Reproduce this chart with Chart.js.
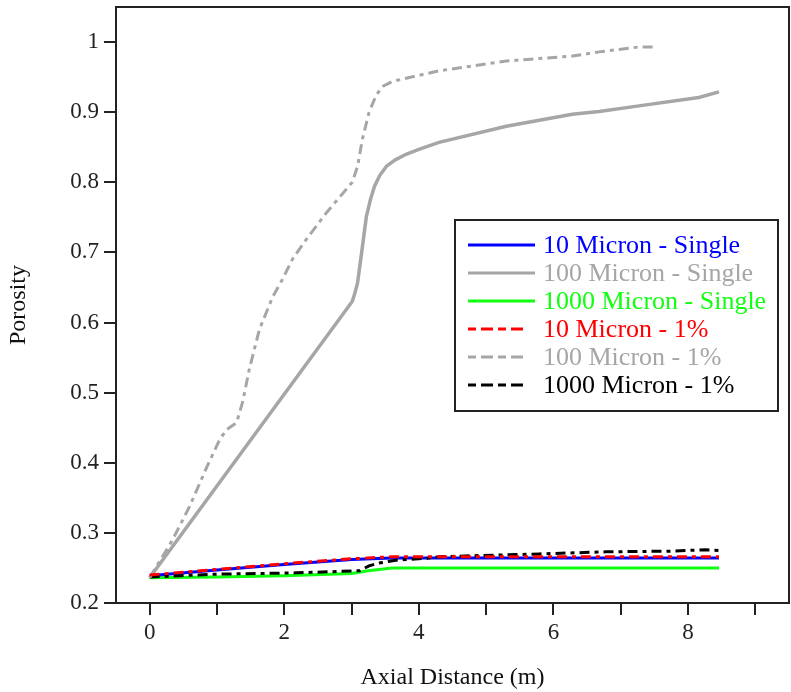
<!DOCTYPE html>
<html>
<head>
<meta charset="utf-8">
<title>Porosity vs Axial Distance</title>
<script src="https://cdn.jsdelivr.net/npm/chart.js@4/dist/chart.umd.min.js"></script>
<style>
	html, body { margin: 0; padding: 0; background: #fff; }
	canvas { display: block; }
</style>
</head>
<body>
<canvas id="porosity-chart" width="791" height="692"></canvas>
<script>
(function () {
	'use strict';

	// Axial distance (m) / porosity samples per run
	var m10SingleX = [0, 1, 2, 3, 3.6, 8.46];
	var m10SingleY = [0.239, 0.247, 0.255, 0.262, 0.264, 0.264];

	var m100SingleX = [0, 3.01, 3.05, 3.09, 3.15, 3.22, 3.28, 3.34, 3.42, 3.52, 3.65, 3.81, 4.0, 4.30, 5.30, 6.28, 6.68, 7.27, 8.16, 8.46];
	var m100SingleY = [0.236, 0.630, 0.642, 0.657, 0.700, 0.751, 0.775, 0.794, 0.810, 0.823, 0.832, 0.840, 0.847, 0.857, 0.880, 0.897, 0.901, 0.909, 0.921, 0.929];

	var m1000SingleX = [0, 1, 2, 3, 3.25, 3.6, 8.46];
	var m1000SingleY = [0.236, 0.237, 0.239, 0.242, 0.246, 0.250, 0.250];

	var m10PctX = [0, 1, 2, 3, 3.6, 8.46];
	var m10PctY = [0.240, 0.248, 0.256, 0.263, 0.266, 0.266];

	var m100PctX = [0, 0.34, 0.59, 0.85, 1.04, 1.14, 1.29, 1.38, 1.48, 1.63, 1.83, 1.97, 2.12, 2.33, 2.63, 3.01, 3.09, 3.16, 3.26, 3.37, 3.47, 3.61, 4.30, 5.30, 6.28, 6.68, 7.27, 7.54];
	var m100PctY = [0.236, 0.290, 0.337, 0.394, 0.433, 0.447, 0.457, 0.486, 0.533, 0.590, 0.637, 0.661, 0.690, 0.719, 0.757, 0.800, 0.823, 0.861, 0.900, 0.925, 0.937, 0.944, 0.959, 0.973, 0.980, 0.986, 0.993, 0.993];

	var m1000PctX = [0, 0.93, 2.18, 3.12, 3.26, 3.41, 3.66, 4.15, 4.30, 5.79, 6.78, 7.76, 8.26, 8.46];
	var m1000PctY = [0.237, 0.241, 0.243, 0.246, 0.253, 0.257, 0.261, 0.264, 0.266, 0.270, 0.273, 0.274, 0.276, 0.275];

	var xTickValues = [0, 1, 2, 3, 4, 5, 6, 7, 8, 9];
	var yTickValues = [0.2, 0.3, 0.4, 0.5, 0.6, 0.7, 0.8, 0.9, 1.0];

	var BLUE = '#0000ff', GRAY = '#a6a6a6', GREEN = '#11ff11', RED = '#ff0000', BLACK = '#000000';
	var DASH = [10, 5, 4, 5];
	var SERIF = "'Liberation Serif', 'Times New Roman', serif";

	function pts(xs, ys) {
		return xs.map(function (x, i) { return { x: x, y: ys[i] }; });
	}

	function series(label, xs, ys, color, dashed, width) {
		return {
			label: label, data: pts(xs, ys),
			borderColor: color, backgroundColor: color,
			borderWidth: width || 3, borderDash: dashed ? DASH : [],
			pointRadius: 0, fill: false, tension: 0,
			order: dashed ? 0 : 1
		};
	}

	// Frame round the plot area plus the boxed legend inside it
	var framePlugin = {
		id: 'frame',
		afterDraw: function (chart) {
			var ctx = chart.ctx, a = chart.chartArea;
			ctx.save();
			ctx.strokeStyle = '#222';
			ctx.lineWidth = 2;
			ctx.strokeRect(a.left, a.top, a.right - a.left, a.bottom - a.top);

			var bx = 455, by = 220, bw = 323, bh = 191;
			ctx.fillStyle = '#fff';
			ctx.fillRect(bx, by, bw, bh);
			ctx.strokeRect(bx, by, bw, bh);

			ctx.font = '26px ' + SERIF;
			ctx.textBaseline = 'middle';
			ctx.textAlign = 'left';
			chart.data.datasets.forEach(function (ds, i) {
				var y = 245 + i * 28;
				var dashed = ds.borderDash && ds.borderDash.length;
				ctx.strokeStyle = ds.borderColor;
				ctx.lineWidth = 3;
				ctx.setLineDash(dashed ? [8, 5, 12, 5] : []);
				ctx.beginPath();
				ctx.moveTo(468, y);
				ctx.lineTo(dashed ? 523 : 535, y);
				ctx.stroke();
				ctx.setLineDash([]);
				ctx.fillStyle = ds.borderColor;
				ctx.fillText(ds.label, 543, y + 1);
			});
			ctx.restore();
		}
	};

	var el = document.getElementById('porosity-chart');
	new Chart(el.getContext('2d'), {
		type: 'line',
		data: {
			datasets: [
				series('10 Micron - Single', m10SingleX, m10SingleY, BLUE, false, 3),
				series('100 Micron - Single', m100SingleX, m100SingleY, GRAY, false, 3.5),
				series('1000 Micron - Single', m1000SingleX, m1000SingleY, GREEN, false, 3),
				series('10 Micron - 1%', m10PctX, m10PctY, RED, true, 3),
				series('100 Micron - 1%', m100PctX, m100PctY, GRAY, true, 3),
				series('1000 Micron - 1%', m1000PctX, m1000PctY, BLACK, true, 3)
			]
		},
		options: {
			responsive: false, animation: false, devicePixelRatio: 1,
			layout: { padding: { top: 7, right: 2, left: 0, bottom: 0 } },
			plugins: { legend: { display: false }, tooltip: { enabled: false } },
			scales: {
				x: {
					type: 'linear', min: -0.5, max: 9.5,
					afterBuildTicks: function (s) { s.ticks = xTickValues.map(function (v) { return { value: v }; }); },
					afterFit: function (s) { s.height = 89; s.paddingLeft = 0; s.paddingRight = 0; },
					grid: { drawOnChartArea: false, drawTicks: true, tickLength: 12, color: '#222', lineWidth: 2 },
					border: { display: true, color: '#222', width: 2 },
					ticks: {
						autoSkip: false, maxRotation: 0, padding: 4, color: '#222',
						font: { family: SERIF, size: 23 },
						callback: function (v) { return v % 2 === 0 ? String(v) : ''; }
					},
					title: {
						display: true, text: 'Axial Distance (m)', color: '#111',
						font: { family: SERIF, size: 24 }, padding: { top: 0, bottom: 0 }
					}
				},
				y: {
					type: 'linear', min: 0.2, max: 1.05,
					afterBuildTicks: function (s) { s.ticks = yTickValues.map(function (v) { return { value: v }; }); },
					afterFit: function (s) { s.width = 116; s.paddingTop = 0; s.paddingBottom = 0; },
					grid: { drawOnChartArea: false, drawTicks: true, tickLength: 12, color: '#222', lineWidth: 2 },
					border: { display: true, color: '#222', width: 2 },
					ticks: {
						autoSkip: false, padding: 5, color: '#222',
						font: { family: SERIF, size: 23 },
						callback: function (v) { return v === 1 ? '1' : v.toFixed(1); }
					},
					title: {
						display: true, text: 'Porosity', color: '#111',
						font: { family: SERIF, size: 24 }, padding: { top: 4, bottom: 0 }
					}
				}
			}
		},
		plugins: [framePlugin]
	});
}());
</script>
</body>
</html>
